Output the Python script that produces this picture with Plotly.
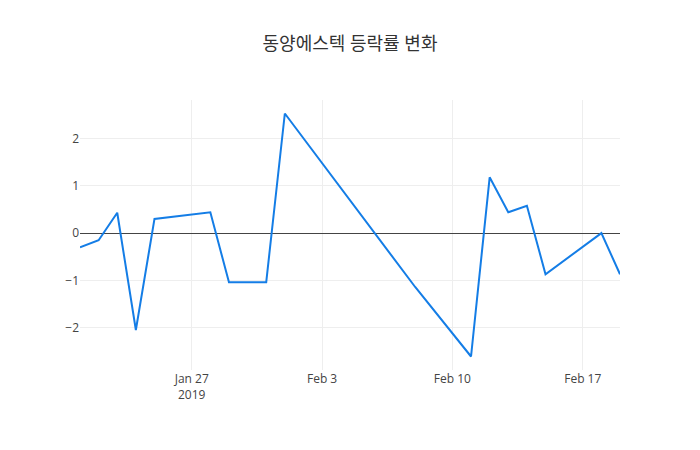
import plotly.graph_objects as go

dates = ["2019-01-21", "2019-01-22", "2019-01-23", "2019-01-24", "2019-01-25",
         "2019-01-28", "2019-01-29", "2019-01-31", "2019-02-01", "2019-02-07",
         "2019-02-08", "2019-02-11", "2019-02-12", "2019-02-13", "2019-02-14",
         "2019-02-15", "2019-02-18", "2019-02-19"]
change_pct = [-0.30, -0.15, 0.43, -2.05, 0.30,
              0.44, -1.04, -1.04, 2.53, -0.62,
              -1.14, -2.61, 1.18, 0.44, 0.58,
              -0.87, 0.00, -0.87]

title_text = "동양에스텍 등락률 변화"

fig = go.Figure(go.Scatter(
    x=dates, y=change_pct, mode="lines",
    line=dict(color="rgb(20,125,230)", width=2),
))

fig.update_layout(
    template="none",
    width=700, height=450,
    title=dict(text=title_text, x=0.5, xanchor="center",
               font=dict(size=18, color="#333")),
    font=dict(family="Open Sans, Noto Sans CJK KR, sans-serif", size=12, color="#444"),
    paper_bgcolor="white", plot_bgcolor="white",
    margin=dict(l=80, r=80, t=100, b=80),
    showlegend=False,
    xaxis=dict(showgrid=True, gridcolor="#eee", zeroline=False, showline=False,
               ticks=""),
    yaxis=dict(showgrid=True, gridcolor="#eee", zeroline=True, zerolinecolor="#444",
               zerolinewidth=1, showline=False, ticks=""),
)

fig.write_html("out.html")
